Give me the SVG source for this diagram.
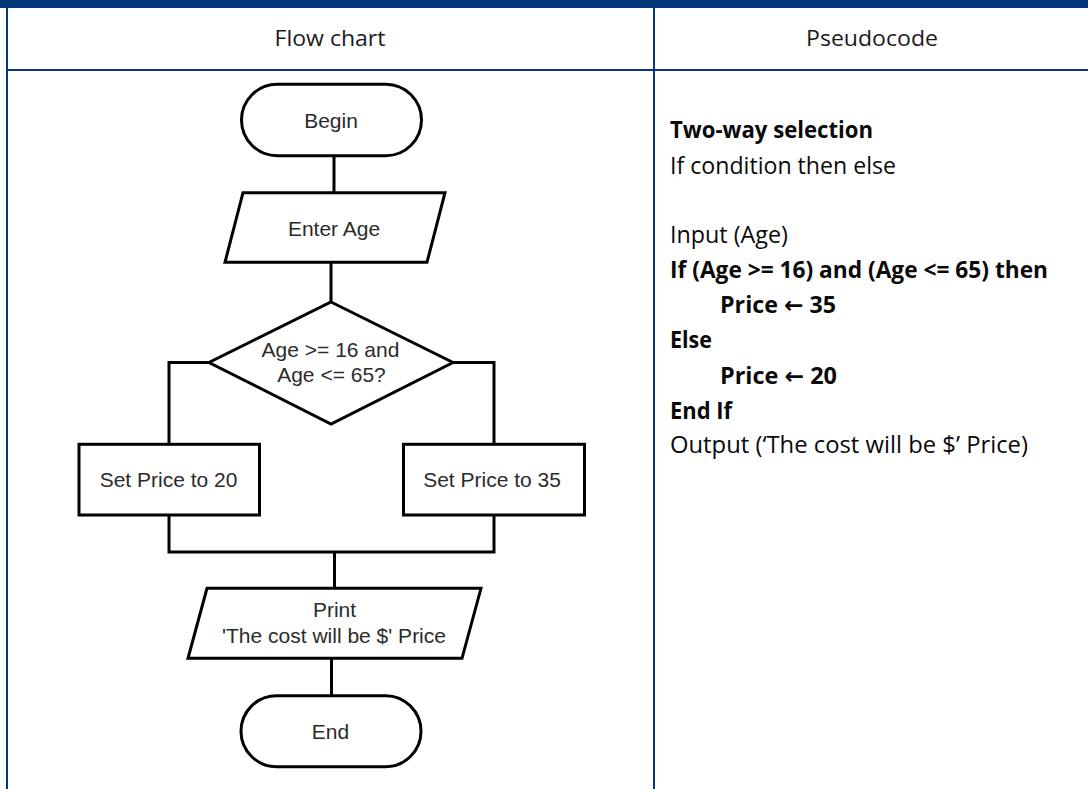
<svg xmlns="http://www.w3.org/2000/svg" width="1088" height="789" viewBox="0 0 1088 789">
  <style>
    .rule { fill: #04367a; }
    .hdr { font-family: "Open Sans", "Liberation Sans", sans-serif; font-size: 22px; fill: #1a1a1a; text-anchor: middle; }
    .code { font-family: "Open Sans", "Liberation Sans", sans-serif; font-size: 23px; fill: #0a0a0a; }
    .b { font-weight: bold; }
    .arrow { font-family: "DejaVu Sans", sans-serif; font-weight: bold; }
    .shape { fill: #ffffff; stroke: #000000; stroke-width: 3; stroke-linejoin: miter; }
    .lbl { font-family: "Liberation Sans", Arial, sans-serif; font-size: 21px; fill: #2b2b2b; text-anchor: middle; }
    .conn { fill: none; stroke: #000000; stroke-width: 3; stroke-linejoin: miter; }
  </style>

  <!-- page background -->
  <rect x="0" y="0" width="1088" height="789" fill="#ffffff"/>

  <!-- table frame -->
  <g id="table">
    <rect class="rule" x="0" y="0" width="1088" height="8"/>
    <rect class="rule" x="6" y="0" width="2" height="789"/>
    <rect class="rule" x="653" y="8" width="2" height="781"/>
    <rect class="rule" x="6" y="69" width="1082" height="2"/>
    <text class="hdr" x="330" y="46" textLength="111" lengthAdjust="spacingAndGlyphs">Flow chart</text>
    <text class="hdr" x="872" y="46" textLength="132" lengthAdjust="spacingAndGlyphs">Pseudocode</text>
  </g>

  <!-- connectors -->
  <g id="connectors">
    <path class="conn" d="M334 156 V193"/>
    <path class="conn" d="M331 262 V302"/>
    <path class="conn" d="M209 362.5 H169 V444"/>
    <path class="conn" d="M453 362.5 H494 V444"/>
    <path class="conn" d="M169 515 V552 H494 V515"/>
    <path class="conn" d="M334.5 552 V588"/>
    <path class="conn" d="M331.5 658 V696"/>
  </g>

  <g id="begin">
    <rect class="shape" x="241.5" y="84.3" width="180" height="71.4" rx="35.7" ry="35.7"/>
    <text class="lbl" x="331" y="128">Begin</text>
  </g>

  <g id="enter-age">
    <polygon class="shape" points="243,192.7 445,192.7 427,262.3 225,262.3"/>
    <text class="lbl" x="334" y="236">Enter Age</text>
  </g>

  <g id="age-check">
    <polygon class="shape" points="331,302 453,362.5 331,424 209,362.5"/>
    <text class="lbl" x="330.5" y="357">Age &gt;= 16 and</text>
    <text class="lbl" x="331.5" y="382">Age &lt;= 65?</text>
  </g>

  <g id="price-20">
    <rect class="shape" x="79" y="444.3" width="180.5" height="70.7"/>
    <text class="lbl" x="168.5" y="487">Set Price to 20</text>
  </g>

  <g id="price-35">
    <rect class="shape" x="403.5" y="444.3" width="181" height="70.7"/>
    <text class="lbl" x="492" y="487">Set Price to 35</text>
  </g>

  <g id="print-cost">
    <polygon class="shape" points="207,588.3 481,588.3 462,658.3 188,658.3"/>
    <text class="lbl" x="334.5" y="617">Print</text>
    <text class="lbl" x="334" y="643">'The cost will be $' Price</text>
  </g>

  <g id="end">
    <rect class="shape" x="241" y="695.7" width="180" height="71" rx="35.5" ry="35.5"/>
    <text class="lbl" x="330.5" y="739">End</text>
  </g>

  <!-- pseudocode listing -->
  <g id="pseudocode">
    <text class="code b" x="670" y="138" textLength="203" lengthAdjust="spacingAndGlyphs">Two-way selection</text>
    <text class="code" x="670" y="174" textLength="226" lengthAdjust="spacingAndGlyphs">If condition then else</text>
    <text class="code" x="670" y="243" textLength="118" lengthAdjust="spacingAndGlyphs">Input (Age)</text>
    <text class="code b" x="670" y="278" textLength="378" lengthAdjust="spacingAndGlyphs">If (Age &gt;= 16) and (Age &lt;= 65) then</text>
    <text class="code b" x="720" y="313" textLength="116" lengthAdjust="spacingAndGlyphs">Price <tspan class="arrow">←</tspan> 35</text>
    <text class="code b" x="670" y="348" textLength="42" lengthAdjust="spacingAndGlyphs">Else</text>
    <text class="code b" x="720" y="384" textLength="117" lengthAdjust="spacingAndGlyphs">Price <tspan class="arrow">←</tspan> 20</text>
    <text class="code b" x="670" y="419" textLength="62" lengthAdjust="spacingAndGlyphs">End If</text>
    <text class="code" x="670" y="453" textLength="358" lengthAdjust="spacingAndGlyphs">Output (‘The cost will be $’ Price)</text>
  </g>
</svg>
